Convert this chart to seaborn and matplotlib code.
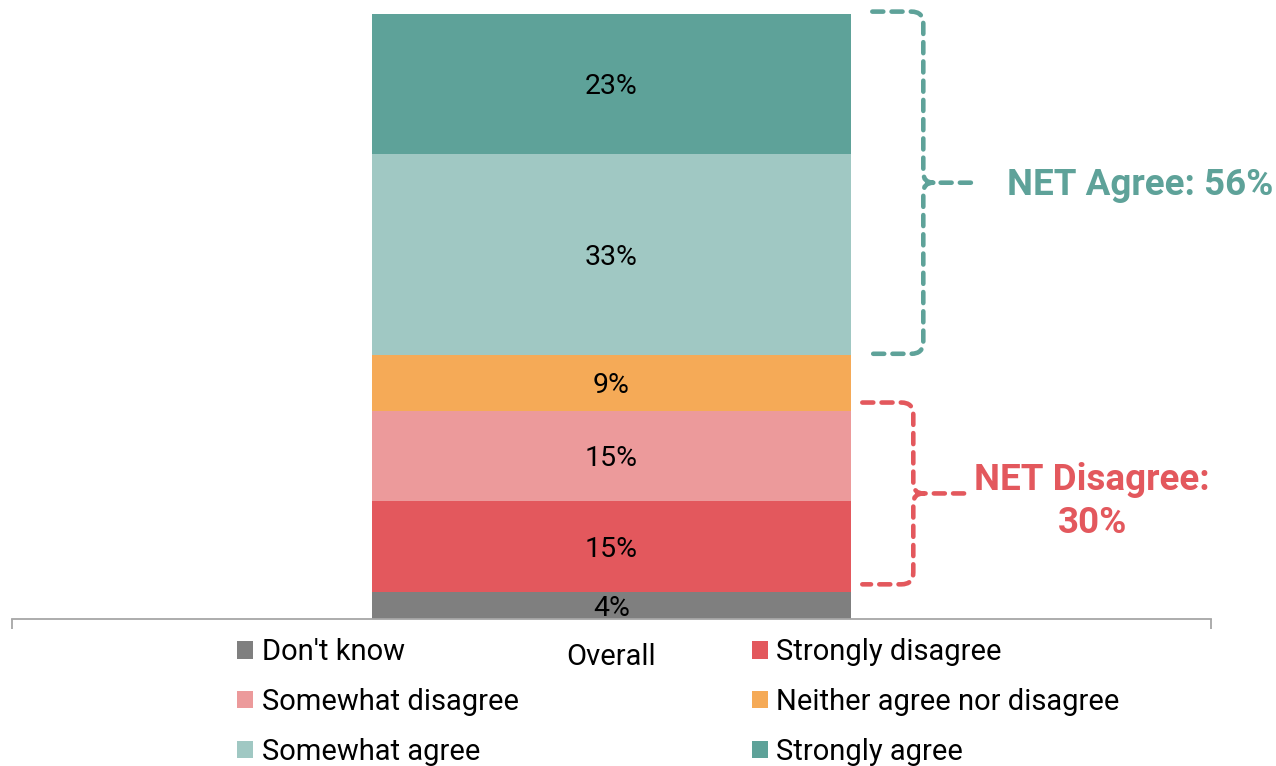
import numpy as np
import pandas as pd
import matplotlib
matplotlib.use("Agg")
import matplotlib.pyplot as plt
from matplotlib.path import Path
from matplotlib.patches import PathPatch, Patch
from matplotlib.transforms import IdentityTransform
import seaborn as sns

# ---- data ----
category = "Overall"
labels = ["Don't know", "Strongly disagree", "Somewhat disagree",
          "Neither agree nor disagree", "Somewhat agree", "Strongly agree"]
values = [4.4, 15.0, 15.0, 9.2, 33.1, 23.2]
colors = ["#7F7F7F", "#E3585D", "#EC9A9B", "#F5AA57", "#A0C8C3", "#5EA299"]
agree_idx = [4, 5]
disagree_idx = [1, 2]
agree_color = "#5EA299"
disagree_color = "#E3585D"

sns.set_theme(style="white")
plt.rcParams['font.family'] = ['Roboto', 'DejaVu Sans']
plt.rcParams['text.color'] = 'black'

W, H = 1276, 766
fig = plt.figure(figsize=(W / 100, H / 100), dpi=100)
ax = fig.add_axes([12 / W, 1 - 619 / H, 1199 / W, 606 / H])

cum = np.cumsum(values)
df = pd.DataFrame({"cat": [category] * len(values), "label": labels,
                   "value": values, "top": cum})

# stacked bars: draw cumulative tops from largest to smallest
for i in reversed(range(len(values))):
    sns.barplot(data=df.iloc[[i]], x="cat", y="top", color=colors[i],
                width=0.4, saturation=1, errorbar=None, ax=ax,
                edgecolor="none", linewidth=0)

for i, v in enumerate(values):
    ax.text(0, cum[i] - v / 2, f"{v:.0f}%", ha="center",
            va="center_baseline", fontsize=20.5, color="black")

ax.set_xlim(-0.5, 0.5)
ax.set_ylim(0, 100)
ax.set_yticks([])
ax.set_xlabel("")
ax.set_ylabel("")
for s in ["left", "top", "right"]:
    ax.spines[s].set_visible(False)
ax.spines["bottom"].set_color("#A6A6A6")
ax.spines["bottom"].set_linewidth(1.3)
ax.tick_params(axis="x", which="major", length=0, pad=17.5, labelsize=21,
               labelcolor="black")
ax.set_xticks([-0.5, 0.5], minor=True)
ax.tick_params(axis="x", which="minor", bottom=True, length=7, width=1.3,
               color="#A6A6A6", direction="out")

# ---- brackets ----
bar_right = ax.transData.transform((0.2, 0))[0]


def bracket(y_top, y_bot, dy_top, dy_bot, x_off, color, text, text_dx,
            text_dy, ha):
    yt = ax.transData.transform((0, y_top))[1] + dy_top
    yb = ax.transData.transform((0, y_bot))[1] + dy_bot
    ym = (yt + yb) / 2
    xs = bar_right + x_off
    xv = xs + 51
    tip = xv + 52
    r = 12
    r2 = 10
    verts = [(xs, yt), (xv - r, yt), (xv, yt), (xv, yt - r),
             (xv, ym + r2), (xv, ym), (xv + r2, ym), (tip, ym),
             (xv + r2, ym), (xv, ym), (xv, ym - r2),
             (xv, yb + r), (xv, yb), (xv - r, yb), (xs, yb)]
    codes = [Path.MOVETO, Path.LINETO, Path.CURVE3, Path.CURVE3,
             Path.LINETO, Path.CURVE3, Path.CURVE3, Path.LINETO,
             Path.MOVETO, Path.CURVE3, Path.CURVE3,
             Path.LINETO, Path.CURVE3, Path.CURVE3, Path.LINETO]
    patch = PathPatch(Path(verts, codes), facecolor="none", edgecolor=color,
                      linewidth=3.3, linestyle=(0, (2.4, 1.8)),
                      transform=IdentityTransform(), clip_on=False)
    patch.set_capstyle("round")
    fig.add_artist(patch)
    fig.text((tip + text_dx) / W, (ym + text_dy) / H, text, ha=ha,
             va="center", fontsize=26.5, fontweight="bold", color=color,
             linespacing=1.25)


a_top = cum[max(agree_idx)]
a_bot = cum[min(agree_idx)] - values[min(agree_idx)]
net_agree = sum(values[i] for i in agree_idx)
bracket(a_top, a_bot, 2, 1, 21, agree_color,
        f"NET Agree: {net_agree:.0f}%", 32, -2, "left")

d_top = cum[max(disagree_idx)]
d_bot = cum[min(disagree_idx)] - values[min(disagree_idx)]
net_dis = sum(values[i] for i in disagree_idx)
bracket(d_top, d_bot, 8, 8, 11, disagree_color,
        f"NET Disagree:\n{net_dis:.0f}%", 127, -8, "center")

# ---- legend ----
order = [0, 2, 4, 1, 3, 5]
handles = [Patch(facecolor=colors[i], edgecolor="none") for i in order]
leg = fig.legend(handles, [labels[i] for i in order], loc="upper left",
                 bbox_to_anchor=(237 / W, 1 - 638 / H), ncol=2,
                 frameon=False, fontsize=21, handlelength=0.56,
                 handleheight=0.56, handletextpad=0.28, columnspacing=8.0,
                 labelspacing=0.75, borderpad=0, borderaxespad=0)
for t in leg.get_texts():
    t.set_color("black")

fig.savefig("out.png", dpi=100, facecolor="white")
